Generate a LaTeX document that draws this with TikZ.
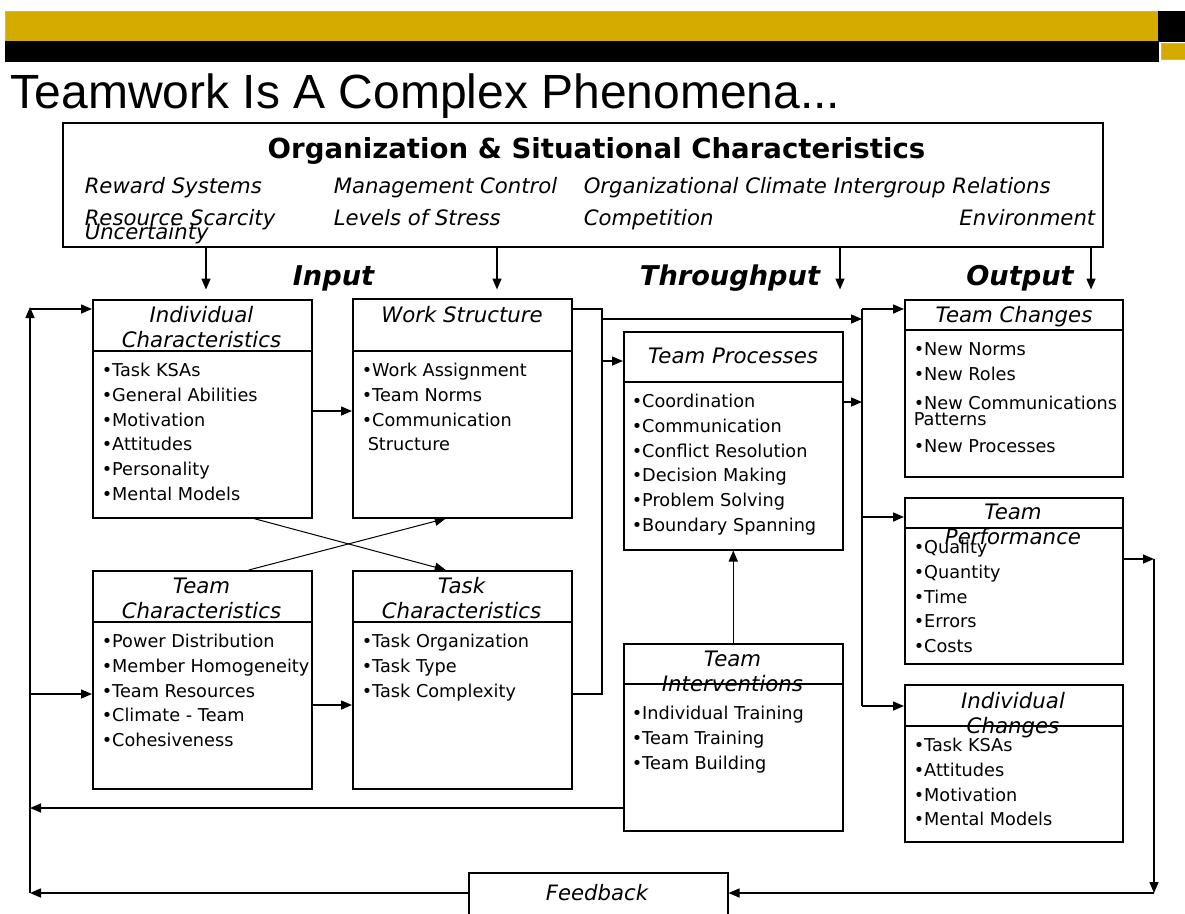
\documentclass[tikz,border=0pt]{standalone}
\usepackage{fontspec}
\setmainfont{DejaVu Sans}
\newfontfamily\titlefont{Liberation Sans}
\usetikzlibrary{arrows.meta}
\definecolor{barGold}{RGB}{214,171,0}

\begin{document}
\begin{tikzpicture}[x=1pt, y=-1pt, line width=1.5pt, >={Triangle[length=11pt,width=9pt]},
    box/.style={draw, rectangle, anchor=north west, inner sep=0pt},
    hdr/.style={anchor=north, yshift=17.15pt, inner sep=0pt, align=center, font=\itshape\fontsize{21.3}{24.5}\selectfont},
    items/.style={anchor=north west, yshift=17.29pt, inner sep=0pt, align=left, font=\fontsize{17.7}{24.7}\selectfont},
    orgitem/.style={anchor=base west, inner sep=0pt, font=\itshape\fontsize{21.2}{24}\selectfont},
    stage/.style={anchor=base, inner sep=0pt, font=\bfseries\itshape\fontsize{27.2}{30}\selectfont}]
  \useasboundingbox (0,0) rectangle (1185,913);
  % Header bars
  \fill[barGold, draw=gray!60, line width=0.5pt] (5,11) rectangle (1158,41);
  \fill[black] (5,41) rectangle (1159,62);
  \fill[black] (1158,11) rectangle (1185,42);
  \fill[barGold, draw=gray!60, line width=0.5pt] (1161,43) rectangle (1185,59);
  \node[anchor=base west, inner sep=0pt, font=\titlefont\fontsize{48}{50}\selectfont] (title) at (10,108) {Teamwork Is A Complex Phenomena...};

  % Organization box
  \node[box, minimum width=1040pt, minimum height=124pt] (org) at (62,122) {};
  \node[anchor=base, inner sep=0pt, font=\bfseries\fontsize{27.6}{30}\selectfont] (orgT) at (596.5,158) {Organization \& Situational Characteristics};
  \node[orgitem] (reward) at (84,193.5) {Reward Systems};
  \node[orgitem] (mgmt) at (333,193.5) {Management Control};
  \node[orgitem] (climate) at (583,193.5) {Organizational Climate};
  \node[orgitem] (intergroup) at (833,193.5) {Intergroup Relations};
  \node[orgitem] (scarcity) at (84,225) {Resource Scarcity};
  \node[orgitem] (stress) at (333,225) {Levels of Stress};
  \node[orgitem] (compet) at (583,225) {Competition};
  \node[orgitem, anchor=base east] (environ) at (1096,225) {Environment};
  \node[orgitem] (uncert) at (84,239.5) {Uncertainty};
  \foreach \dx in {144,435,778,1029}
    \draw[->] ([xshift=\dx pt]org.south west) -- ++(0,42);

  % Stage labels
  \node[stage] (input) at (333.5,285) {Input};
  \node[stage] (through) at (730,285) {Throughput};
  \node[stage] (output) at (1020,285) {Output};

  % Input boxes
  \node[box, minimum width=219pt, minimum height=218pt] (indiv) at (92,299) {};
  \draw ([yshift=-52pt]indiv.north west) -- ([yshift=-52pt]indiv.north east);
  \node[hdr] (indivT) at (201.5,322) {\strut Individual\\Characteristics};
  \node[items] (indivL) at (101,376) {\strut •Task KSAs\\•General Abilities\\•Motivation\\•Attitudes\\•Personality\\•Mental Models};

  \node[box, minimum width=219pt, minimum height=219pt] (work) at (352,298) {};
  \draw ([yshift=-53pt]work.north west) -- ([yshift=-53pt]work.north east);
  \node[hdr] (workT) at (462,322) {\strut Work Structure};
  \node[items] (workL) at (361,376) {\strut •Work Assignment\\•Team Norms\\•Communication\\\hspace*{6pt}Structure};

  \node[box, minimum width=219pt, minimum height=218pt] (teamc) at (92,570) {};
  \draw ([yshift=-52pt]teamc.north west) -- ([yshift=-52pt]teamc.north east);
  \node[hdr] (teamcT) at (201.5,593) {\strut Team\\Characteristics};
  \node[items] (teamcL) at (101,647) {\strut •Power Distribution\\•Member Homogeneity\\•Team Resources\\•Climate - Team\\•Cohesiveness};

  \node[box, minimum width=219pt, minimum height=218pt] (task) at (352,570) {};
  \draw ([yshift=-52pt]task.north west) -- ([yshift=-52pt]task.north east);
  \node[hdr] (taskT) at (461.5,593) {\strut Task\\Characteristics};
  \node[items] (taskL) at (361,647) {\strut •Task Organization\\•Task Type\\•Task Complexity};

  % Throughput boxes
  \node[box, minimum width=219pt, minimum height=218pt] (proc) at (623,331) {};
  \draw ([yshift=-51pt]proc.north west) -- ([yshift=-51pt]proc.north east);
  \node[hdr] (procT) at (733,363) {\strut Team Processes};
  \node[items] (procL) at (631,407) {\strut •Coordination\\•Communication\\•Conflict Resolution\\•Decision Making\\•Problem Solving\\•Boundary Spanning};

  \node[box, minimum width=219pt, minimum height=187pt] (interv) at (623,643) {};
  \draw ([yshift=-41pt]interv.north west) -- ([yshift=-41pt]interv.north east);
  \node[hdr] (intervT) at (732.5,666) {\strut Team\\Interventions};
  \node[items] (intervL) at (631,719) {\strut •Individual Training\\•Team Training\\•Team Building};

  % Output boxes
  \node[box, minimum width=218pt, minimum height=177pt] (tchg) at (904,299) {};
  \draw ([yshift=-31pt]tchg.north west) -- ([yshift=-31pt]tchg.north east);
  \node[hdr] (tchgT) at (1014,322) {\strut Team Changes};
  \node[items] (tchgL) at (913,355) {\strut •New Norms\\•New Roles\\[4.6pt]•New Communications\\[-8.7pt]Patterns\\[2.3pt]•New Processes};

  \node[box, minimum width=218pt, minimum height=166pt] (tperf) at (904,497) {};
  \draw ([yshift=-31pt]tperf.north west) -- ([yshift=-31pt]tperf.north east);
  \node[hdr] (tperfT) at (1013,519) {\strut Team\\Performance};
  \node[items] (tperfL) at (913,553) {\strut •Quality\\•Quantity\\•Time\\•Errors\\•Costs};

  \node[box, minimum width=218pt, minimum height=157pt] (ichg) at (904,684) {};
  \draw ([yshift=-42pt]ichg.north west) -- ([yshift=-42pt]ichg.north east);
  \node[hdr] (ichgT) at (1013,708) {\strut Individual\\Changes};
  \node[items] (ichgL) at (913,751) {\strut •Task KSAs\\•Attitudes\\•Motivation\\•Mental Models};

  % Feedback
  \node[box, minimum width=259pt, minimum height=46pt] (fb) at (468,872) {};
  \node[anchor=base, inner sep=0pt, font=\itshape\fontsize{21.2}{24}\selectfont] (fbT) at (597,900) {Feedback};

  % Junction points
  \coordinate (lTop) at (30,307);
  \coordinate (lBot) at (30,893);
  \coordinate (lInd) at (30,309);
  \coordinate (lTeam) at (30,694);
  \coordinate (lInt) at (30,808);
  \coordinate (rTop) at (1154,559);
  \coordinate (rBot) at (1154,893);
  \coordinate (iw) at (330,411);
  \coordinate (tt) at (330,705);
  \coordinate (mTop) at (602,309);
  \coordinate (mBot) at (602,694);
  \coordinate (mOut) at (602,319);
  \coordinate (mProc) at (602,361);
  \coordinate (sTop) at (862,309);
  \coordinate (sProc) at (862,402);
  \coordinate (sPerf) at (862,517);
  \coordinate (sBot) at (862,706);

  % Draw edges
  \draw[->] (iw -| indiv.east) -- (iw -| work.west);
  \draw[->] (tt -| teamc.east) -- (tt -| task.west);
  \draw[->, line width=1pt] ([xshift=51.5pt]indiv.south) -- ([xshift=-16.5pt]task.north);
  \draw[->, line width=1pt] ([xshift=46.5pt]teamc.north) -- ([xshift=-16.5pt]work.south);
  \draw (mTop -| work.east) -- (mTop) -- (mBot) -- (mBot -| task.east);
  \draw[->] (mOut) -- (mOut -| sTop);
  \draw[->] (mProc) -- (mProc -| proc.west);
  \draw[->] (sProc -| proc.east) -- (sProc);
  \draw[->] (interv) -- (proc);
  \draw (sTop) -- (sBot);
  \draw[->] (sTop) -- (sTop -| tchg.west);
  \draw[->] (sPerf) -- (sPerf -| tperf.west);
  \draw[->] (sBot) -- (sBot -| ichg.west);
  \draw[->] (rTop -| tperf.east) -- (rTop);
  \draw[->] (rTop) -- (rBot);
  \draw[->] (rBot) -- (rBot -| fb.east);
  \draw[->] (lBot -| fb.west) -- (lBot);
  \draw[->] (lInt -| interv.west) -- (lInt);
  \draw[->] (lBot) -- (lTop);
  \draw[->] (lInd) -- (lInd -| indiv.west);
  \draw[->] (lTeam) -- (lTeam -| teamc.west);
\end{tikzpicture}
\end{document}
